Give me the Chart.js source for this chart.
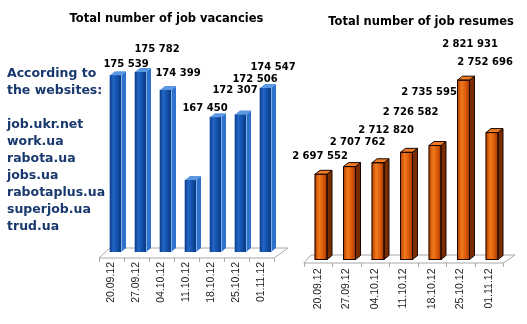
<!DOCTYPE html>
<html>
<head>
<meta charset="utf-8">
<script src="https://cdn.jsdelivr.net/npm/chart.js@4/dist/chart.umd.min.js"></script>
<style>
  html, body { margin: 0; padding: 0; background: #fff; }
  #wrap { position: relative; width: 527px; height: 324px; overflow: hidden; }
  canvas { position: absolute; left: 0; top: 0; }
  .title { position: absolute; font: bold 11.5px "DejaVu Sans"; line-height: 14px; color: #000;
           white-space: nowrap; transform: translateX(-50%); }
  #sites { position: absolute; left: 7px; top: 64px; font: bold 12.5px "DejaVu Sans";
           line-height: 17px; color: #18386e; white-space: nowrap; }
</style>
</head>
<body>
<div id="wrap">
  <canvas id="vac" width="527" height="324"></canvas>
  <canvas id="res" width="527" height="324"></canvas>
  <div class="title" style="left:166.5px; top:10.5px">Total number of job vacancies</div>
  <div class="title" style="left:421px; top:13.5px">Total number of job resumes</div>
  <div id="sites">According to<br>the websites:<br><br>job.ukr.net<br>work.ua<br>rabota.ua<br>jobs.ua<br>rabotaplus.ua<br>superjob.ua<br>trud.ua</div>
</div>
<script>
// Survey dates
const dates = ['20.09.12', '27.09.12', '04.10.12', '11.10.12', '18.10.12', '25.10.12', '01.11.12'];
// Total number of job vacancies
const vacancies = [175539, 175782, 174399, 167450, 172307, 172506, 174547];
// Total number of job resumes
const resumes = [2697552, 2707762, 2712820, 2726582, 2735595, 2821931, 2752696];

// Value-label placement relative to each bar's top (pixels)
const vacLabelDx   = [10.5, 16.5, 12.5, 14.5, 19.5, 14.5, 7.5];
const vacLabelLift = [11, 22.5, 17, 72, 27, 35, 21];
const resLabelDx   = [-1, 8, 8, 4, -6, 6.5, -7];
const resLabelLift = [18, 24, 32, 40, 53.5, 36, 70.5];

const fmt = v => String(v).replace(/\B(?=(\d{3})+(?!\d))/g, ' ');

function poly(ctx, pts) {
  ctx.beginPath();
  ctx.moveTo(pts[0][0], pts[0][1]);
  for (let i = 1; i < pts.length; i++) ctx.lineTo(pts[i][0], pts[i][1]);
  ctx.closePath();
}

// Pseudo-3D bars on a flat floor, with free-placed value labels
function bars3d(o) {
  return {
    id: 'bars3d',
    beforeDatasetsDraw(chart) {
      const { ctx, chartArea: a, scales: { x } } = chart;
      const B = a.bottom, f = o.floor;
      const fl = a.left + f.shift, fr = a.right + f.shift;
      ctx.save();
      poly(ctx, [[fl, B + f.fy], [fr, B + f.fy], [a.right + f.backR, B + f.by], [a.left + f.backL, B + f.by]]);
      ctx.fillStyle = '#fff';
      ctx.fill();
      ctx.strokeStyle = '#a8a8a8';
      ctx.lineWidth = 1;
      ctx.stroke();
      // category boundary ticks under the front edge
      ctx.beginPath();
      for (let k = 0; k <= chart.data.labels.length; k++) {
        const px = Math.round(x.getPixelForValue(k - 0.5) + f.shift) + 0.5;
        ctx.moveTo(px, B + f.fy);
        ctx.lineTo(px, B + f.fy + 4);
      }
      ctx.stroke();
      ctx.restore();
    },
    afterDatasetsDraw(chart) {
      const { ctx } = chart;
      const meta = chart.getDatasetMeta(0);
      const vals = chart.data.datasets[0].data;
      const dx = o.depthX, dy = o.depthY;
      ctx.save();
      meta.data.forEach((el) => {
        const w = el.width, l = el.x - w / 2, r = el.x + w / 2, t = el.y, b = el.base;
        const g = ctx.createLinearGradient(l, 0, r, 0);
        o.front.forEach(([s, c]) => g.addColorStop(s, c));
        ctx.fillStyle = g;
        ctx.fillRect(l, t, w, b - t);
        // side face
        poly(ctx, [[r, t], [r + dx, t + dy], [r + dx, b + dy], [r, b]]);
        ctx.fillStyle = o.side;
        ctx.fill();
        if (o.outline) { ctx.strokeStyle = o.outline; ctx.lineWidth = 1; ctx.stroke(); }
        // top face
        poly(ctx, [[l, t], [r, t], [r + dx, t + dy], [l + dx, t + dy]]);
        ctx.fillStyle = o.top;
        ctx.fill();
        if (o.outline) { ctx.stroke(); ctx.strokeRect(l, t, w, b - t); }
        if (o.edge) {
          ctx.beginPath();
          ctx.moveTo(r + 0.5, t);
          ctx.lineTo(r + 0.5, b);
          ctx.strokeStyle = o.edge;
          ctx.lineWidth = 1;
          ctx.stroke();
        }
      });
      ctx.fillStyle = '#000';
      ctx.font = 'bold 10px "DejaVu Sans"';
      ctx.textAlign = 'center';
      ctx.textBaseline = 'middle';
      meta.data.forEach((el, i) => {
        ctx.fillText(fmt(vals[i]), el.x + o.labelDx[i], el.y - o.labelLift[i]);
      });
      ctx.restore();
    }
  };
}

function makeChart(id, values, opt) {
  return new Chart(document.getElementById(id), {
    type: 'bar',
    data: { labels: dates, datasets: [{ data: values, base: opt.min, backgroundColor: opt.base, borderWidth: 0, barThickness: opt.thickness }] },
    options: {
      responsive: false,
      animation: false,
      events: [],
      layout: { padding: opt.padding },
      plugins: { legend: { display: false }, tooltip: { enabled: false }, title: { display: false } },
      scales: {
        x: {
          offset: true,
          grid: { display: false, drawTicks: false },
          border: { display: false },
          ticks: {
            minRotation: 90, maxRotation: 90, autoSkip: false,
            labelOffset: opt.floor.shift, padding: opt.tickPad,
            color: '#222', font: { family: 'Liberation Sans', size: 10.5 }
          },
          afterFit(s) { s.height = opt.axisHeight; }
        },
        y: { display: false, min: opt.min, max: opt.max }
      }
    },
    plugins: [bars3d(opt)]
  });
}

makeChart('vac', vacancies, {
  base: '#1452ad', thickness: 11,
  padding: { left: 103, right: 249, top: 40, bottom: 0 },
  axisHeight: 72, tickPad: 10,
  min: 161900, max: 178260,
  depthX: 5, depthY: -4,
  front: [[0, '#0c3d8c'], [0.3, '#2466c6'], [0.65, '#1250aa'], [1, '#0a3880']],
  side: '#2f72cc', top: '#5b98e4', edge: '#7fb2f0', outline: null,
  floor: { shift: -4, fy: 6, by: -4, backL: 7, backR: 10 },
  labelDx: vacLabelDx, labelLift: vacLabelLift
});

makeChart('res', resumes, {
  base: '#e0600a', thickness: 12,
  padding: { left: 306.75, right: 20.75, top: 40, bottom: 0 },
  axisHeight: 64.5, tickPad: 9,
  min: 2585000, max: 2875000,
  depthX: 5, depthY: -4,
  front: [[0, '#b84000'], [0.35, '#f27a1c'], [0.7, '#d95808'], [1, '#a03800']],
  side: '#7a2c00', top: '#ee7a26', edge: null, outline: '#1a0800',
  floor: { shift: -3, fy: 3.5, by: -4.5, backL: 4.25, backR: 8.75 },
  labelDx: resLabelDx, labelLift: resLabelLift
});
</script>
</body>
</html>
